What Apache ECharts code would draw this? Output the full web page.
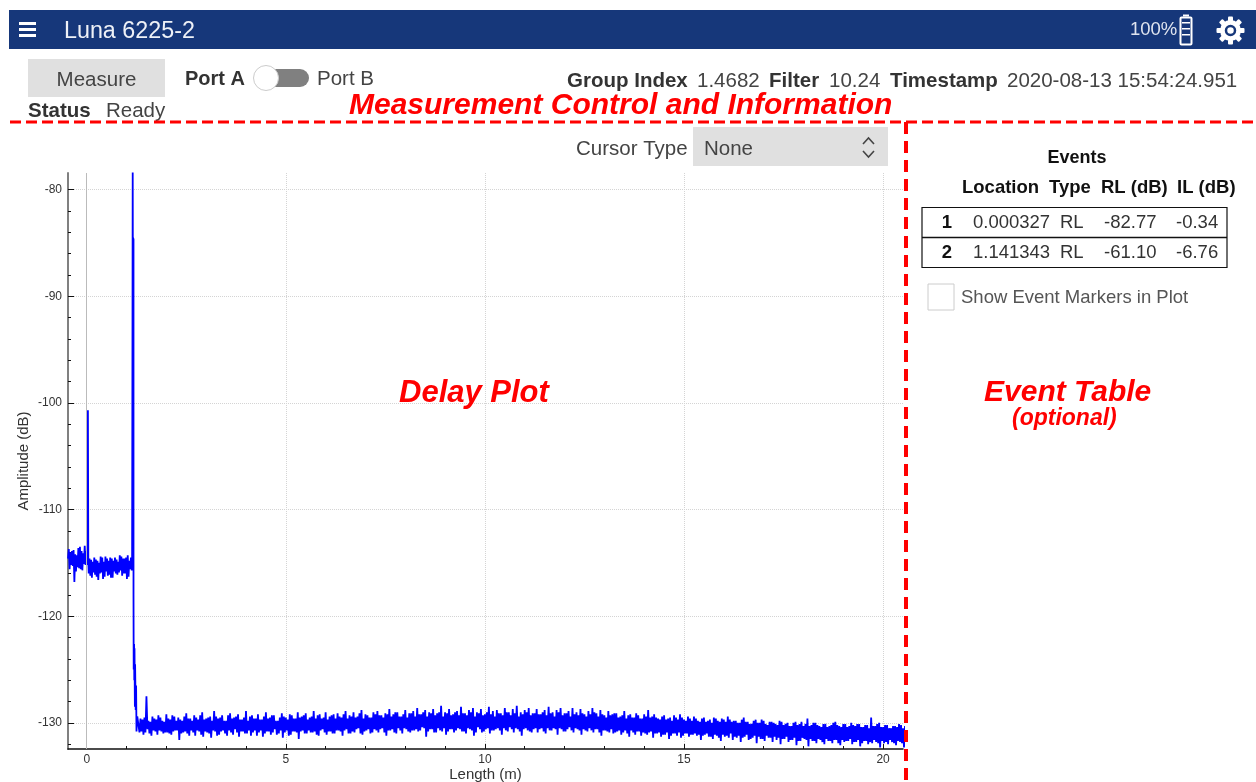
<!DOCTYPE html>
<html>
<head>
<meta charset="utf-8">
<title>Luna 6225-2</title>
<script src="https://cdn.jsdelivr.net/npm/echarts@6/dist/echarts.min.js"></script>
<style>
html,body{margin:0;padding:0;background:#fff}
#main{width:1256px;height:782px}
</style>
</head>
<body>
<div id="main"></div>
<script>
// trace, metres / dB
var frontStart = -0.47, frontStep = 0.04
var frontAmp = [-114.6,-113.7,-115.2,-113.9,-116.8,-114.2,-115.4,-113.6,-115.6,-113.9,-115.1,-113.4,-115.2]
var frontAmpB = [-115.6,-114.0,-115.3,-113.8,-115.8,-114.3,-115.5,-113.5,-115.7,-114.1,-115.2,-113.9]
var echoLength = [0.03,0.03,0.04]
var echoAmp = [-114.4,-100.7,-114.9]
var fiberStart = 0.05
var fiberAmp = [-116.0,-114.6,-116.4,-114.9,-116.1,-114.7,-116.6,-115.0,-115.9,-114.5,-116.3,-114.4,-116.2,-114.8,-116.4,-114.6,-115.8,-114.5,-116.1,-114.9,-115.7,-114.4,-116.0,-114.6,-116.5,-114.3,-115.6,-114.5]
var fiberAmpB = [-116.2,-114.7,-115.9,-114.5,-116.3,-114.8,-116.0,-114.4,-116.5,-114.9,-115.8,-114.6,-116.1,-114.5,-116.4,-114.8,-116.0,-114.7,-115.9,-114.3,-116.2,-114.6,-116.0,-114.5,-116.3,-114.8,-115.7,-114.6]
var peakLength = [1.14,1.15,1.155,1.16,1.165,1.17,1.175,1.175,1.18,1.19,1.195,1.2,1.21,1.215,1.23,1.24,1.25,1.27]
var peakAmp = [-115,-92,-78.4,-90,-84.5,-100,-84.6,-118,-125,-122.6,-126,-123,-128.5,-124.5,-128.8,-126.5,-130.8,-129.4]
var floorStart = 1.3, floorStep = 0.05
var floorAmp = [
-129.4,-130.9,-129.7,-131.1,-127.5,-130.6,-129.9,-131.2,-129.6,-130.8,-129.3,-130.7,-129.8,-131.0,-129.2,-130.9,-129.7,-131.1,-129.4,-130.7,
-129.5,-131.6,-129.8,-130.9,-129.1,-131.0,-129.6,-130.7,-129.3,-131.2,-129.7,-130.8,-129.0,-131.3,-129.6,-130.9,-129.4,-131.4,-128.9,-130.8,
-129.6,-131.1,-129.3,-130.7,-129.8,-131.2,-129.1,-130.9,-129.5,-130.6,-129.2,-131.3,-129.7,-130.8,-128.9,-131.0,-129.4,-131.2,-129.6,-130.7,
-129.2,-130.9,-129.7,-131.3,-129.0,-130.8,-129.5,-131.1,-129.3,-130.6,-129.8,-131.0,-129.1,-131.4,-129.5,-130.7,-129.2,-131.1,-129.6,-130.8,
-129.0,-131.5,-129.4,-130.7,-129.1,-131.0,-129.5,-130.9,-128.9,-130.8,-129.3,-131.2,-129.6,-130.6,-129.0,-131.1,-129.4,-130.8,-129.2,-131.0,
-129.1,-130.7,-129.5,-131.2,-128.9,-130.6,-129.3,-131.0,-129.0,-130.9,-129.4,-130.5,-128.8,-131.1,-129.2,-130.7,-129.5,-131.0,-129.0,-130.6,
-128.9,-130.9,-129.3,-130.5,-129.1,-131.2,-128.7,-130.7,-129.2,-130.9,-129.0,-130.5,-129.4,-131.0,-128.8,-130.6,-129.1,-130.9,-128.9,-130.7,
-128.6,-130.8,-129.2,-130.4,-128.8,-131.3,-129.0,-130.6,-128.7,-130.9,-129.1,-130.5,-128.4,-130.8,-129.0,-131.1,-128.7,-130.6,-129.2,-130.9,
-128.9,-130.5,-128.5,-130.8,-129.1,-131.0,-128.8,-130.6,-128.6,-131.2,-129.0,-130.4,-128.7,-130.9,-129.2,-130.6,-128.5,-131.0,-128.9,-130.7,
-128.8,-130.5,-129.1,-131.1,-128.6,-130.7,-129.0,-130.4,-128.7,-130.9,-128.4,-130.6,-129.0,-131.2,-128.8,-130.5,-128.6,-130.8,-129.1,-130.6,
-128.7,-130.9,-129.2,-130.5,-128.8,-131.0,-128.5,-130.7,-129.0,-130.5,-128.8,-131.1,-128.6,-130.6,-129.1,-130.8,-128.9,-130.4,-128.6,-130.9,
-129.0,-130.6,-128.7,-131.1,-129.2,-130.7,-128.9,-130.5,-128.6,-130.9,-129.1,-130.6,-128.8,-131.2,-129.3,-130.7,-128.9,-130.9,-129.2,-131.0,
-129.1,-130.8,-129.4,-131.1,-128.9,-130.7,-129.3,-131.3,-129.5,-130.9,-129.1,-130.8,-129.6,-131.2,-129.2,-131.0,-128.8,-130.9,-129.4,-131.4,
-129.5,-131.0,-129.7,-131.3,-129.3,-131.1,-129.6,-131.5,-129.8,-131.0,-129.5,-131.2,-129.2,-131.4,-129.7,-131.0,-129.4,-131.3,-129.8,-131.1,
-129.6,-131.2,-129.9,-131.6,-129.5,-131.1,-129.8,-131.3,-130.0,-131.5,-129.6,-131.2,-129.9,-131.7,-129.7,-131.3,-129.4,-131.4,-129.9,-131.6,
-129.8,-131.4,-130.0,-131.8,-129.5,-131.3,-129.9,-131.6,-130.1,-131.4,-129.7,-131.9,-130.0,-131.5,-129.8,-131.7,-130.2,-131.4,-129.9,-131.8,
-130.1,-131.6,-129.8,-132.0,-130.2,-131.5,-130.0,-131.8,-130.3,-131.6,-129.9,-132.1,-130.1,-131.7,-130.3,-131.5,-129.6,-132.2,-130.2,-131.7,
-130.0,-131.9,-130.3,-131.6,-130.1,-132.0,-130.4,-131.7,-130.2,-131.9,-129.9,-131.6,-130.3,-132.1,-130.1,-131.8,-130.4,-131.7,-130.0,-132.0,
-130.3,-131.8,-130.1,-132.2,-130.4,-131.7,-130.2,-132.0,-129.5,-131.9,-130.3,-131.8,-130.0,-132.3,-130.4,-131.9,-130.2,-132.0,-130.5,-131.8,
-130.3,-132.1,-130.1,-131.8,-130.5,-132.3,-130.2,-131.9,-130.4,-132.0,-130.1,-131.7,-130.5,-132.2,-130.3,-131.9
]
// second pass of high/low pairs, woven in with floorAmp
var floorAmpB = [
-129.6,-130.8,-129.5,-130.9,-129.8,-131.0,-129.4,-130.7,-129.7,-131.1,-129.5,-130.8,-129.9,-130.9,-129.6,-131.0,-129.3,-130.8,-129.8,-130.7,
-129.7,-131.0,-129.4,-130.8,-129.6,-131.2,-129.8,-130.9,-129.5,-130.7,-129.3,-131.1,-129.7,-130.8,-129.5,-131.0,-129.8,-130.7,-129.4,-131.2,
-129.5,-130.8,-129.8,-131.0,-129.3,-130.7,-129.6,-131.1,-129.4,-130.9,-129.7,-130.8,-129.5,-131.0,-129.8,-130.7,-129.3,-130.9,-129.6,-131.2,
-129.7,-130.7,-129.4,-131.0,-129.6,-130.8,-129.3,-130.9,-129.8,-131.1,-129.5,-130.7,-129.4,-130.9,-129.7,-131.2,-129.3,-130.8,-129.6,-130.9,
-129.5,-130.8,-129.3,-131.0,-129.7,-130.7,-129.4,-130.9,-129.6,-131.1,-129.2,-130.7,-129.5,-130.9,-129.7,-130.8,-129.3,-131.0,-129.6,-130.7,
-129.4,-130.8,-129.2,-130.7,-129.6,-131.0,-129.4,-130.8,-129.5,-130.6,-129.1,-131.0,-129.6,-130.8,-129.3,-130.6,-129.5,-130.9,-129.2,-130.7,
-129.3,-130.6,-129.5,-130.9,-129.2,-130.7,-129.4,-130.6,-129.0,-131.0,-129.4,-130.7,-129.2,-130.5,-129.5,-130.8,-129.1,-130.7,-129.4,-130.6,
-129.2,-130.7,-129.0,-130.5,-129.4,-130.8,-129.1,-130.6,-129.3,-130.9,-129.0,-130.7,-129.4,-130.5,-129.1,-130.8,-129.3,-130.6,-129.0,-130.7,
-129.3,-130.6,-129.1,-130.8,-129.3,-130.5,-129.0,-130.7,-129.4,-130.9,-129.1,-130.6,-129.3,-130.8,-129.0,-130.5,-129.2,-130.7,-129.4,-130.6,
-129.1,-130.7,-129.3,-130.5,-129.0,-130.8,-129.3,-130.6,-129.1,-130.5,-129.4,-130.8,-129.2,-130.6,-129.0,-130.7,-129.3,-130.9,-129.1,-130.5,
-129.2,-130.6,-129.0,-130.8,-129.3,-130.5,-129.1,-130.7,-129.4,-130.6,-129.0,-130.5,-129.3,-130.8,-129.1,-130.6,-129.4,-130.7,-129.2,-130.5,
-129.3,-130.7,-129.1,-130.6,-129.4,-130.8,-129.2,-130.7,-129.0,-130.6,-129.4,-130.9,-129.2,-130.7,-129.5,-130.8,-129.3,-130.6,-129.1,-130.9,
-129.5,-130.7,-129.3,-130.9,-129.6,-131.0,-129.2,-130.7,-129.5,-131.1,-129.3,-130.8,-129.6,-130.9,-129.4,-131.1,-129.5,-130.8,-129.2,-131.0,
-129.6,-130.9,-129.4,-131.1,-129.7,-130.9,-129.5,-131.2,-129.3,-131.0,-129.7,-130.9,-129.5,-131.2,-129.8,-131.0,-129.6,-131.1,-129.4,-131.0,
-129.8,-131.1,-129.6,-131.2,-129.9,-131.0,-129.7,-131.3,-129.5,-131.1,-129.8,-131.4,-129.6,-131.1,-129.9,-131.2,-129.7,-131.0,-129.8,-131.3,
-130.0,-131.2,-129.7,-131.4,-129.9,-131.1,-130.1,-131.5,-129.8,-131.2,-130.0,-131.3,-129.7,-131.5,-130.1,-131.2,-129.9,-131.4,-130.0,-131.3,
-130.2,-131.4,-129.9,-131.5,-130.1,-131.3,-130.3,-131.6,-130.0,-131.4,-130.2,-131.7,-129.9,-131.4,-130.1,-131.6,-130.3,-131.5,-130.0,-131.7,
-130.2,-131.5,-130.4,-131.8,-130.1,-131.5,-130.3,-131.7,-130.0,-131.6,-130.2,-131.9,-130.4,-131.6,-130.1,-131.7,-130.3,-131.5,-130.2,-131.8,
-130.1,-131.6,-130.4,-131.9,-130.2,-131.7,-130.5,-131.8,-130.3,-131.6,-130.1,-131.9,-130.4,-131.7,-130.2,-131.8,-130.5,-131.6,-130.3,-131.9,
-130.4,-131.7,-130.2,-131.9,-130.3,-131.7,-130.5,-131.8,-130.2,-132.0,-130.4,-131.7,-130.3,-131.9,-130.5,-131.8
]
var xRange = [-0.47, 20.5]
var yRange = [-132.45, -78.45]
var xTicks = [0, 5, 10, 15, 20]
var yTicks = [-130, -120, -110, -100, -90, -80]

var trace = []
// two samples from a, then two from b, and so on, half a step apart
function weave(start, step, a, b) {
    for (var i = 0; i < a.length; i += 2) {
        trace.push([start + i * step, a[i]])
        if (i + 1 < a.length) trace.push([start + (i + 0.5) * step, a[i + 1]])
        if (i < b.length) trace.push([start + (i + 1) * step, b[i]])
        if (i + 1 < b.length) trace.push([start + (i + 1.5) * step, b[i + 1]])
    }
}
weave(frontStart, frontStep, frontAmp, frontAmpB)
echoAmp.forEach(function (v, i) { trace.push([echoLength[i], v]) })
weave(fiberStart, frontStep, fiberAmp, fiberAmpB)
peakAmp.forEach(function (v, i) { trace.push([peakLength[i], v]) })
weave(floorStart, floorStep, floorAmp, floorAmpB)

var FONT = '"Liberation Sans", Arial, sans-serif'
var NAVY = '#16377a'
var RED = '#ff0000'

function txt(x, y, s, size, opt) {
    opt = opt || {}
    return {
        type: 'text', x: x, y: y, silent: true, z: opt.z || 10,
        style: {
            text: s, fontFamily: FONT, fontSize: size,
            fontWeight: opt.bold ? 'bold' : 'normal',
            fontStyle: opt.italic ? 'italic' : 'normal',
            fill: opt.color || '#444',
            align: opt.align || 'left', verticalAlign: 'middle'
        }
    }
}
function box(x, y, w, h, fill, stroke, lw, r) {
    return {
        type: 'rect', silent: true, z: 5,
        shape: { x: x, y: y, width: w, height: h, r: r || 0 },
        style: { fill: fill || 'none', stroke: stroke || 'none', lineWidth: lw || 0 }
    }
}
function seg(x1, y1, x2, y2, color, lw, dash) {
    return {
        type: 'line', silent: true, z: 20,
        shape: { x1: x1, y1: y1, x2: x2, y2: y2 },
        style: { stroke: color, lineWidth: lw, lineDash: dash || null }
    }
}
function annot(x, y, s, size) {
    return txt(x, y, s, size, { bold: true, italic: true, color: RED, z: 30 })
}

var gfx = [
    // header bar
    box(9, 10, 1247, 39, NAVY),
    box(19, 22, 17, 3, '#fff'), box(19, 28, 17, 3, '#fff'), box(19, 34, 17, 3, '#fff'),
    txt(64, 32, 'Luna 6225-2', 23.3, { color: '#eef1f7' }),
    txt(1130, 30, '100%', 18.5, { color: '#dfe4ef' }),
    box(1180.5, 17.5, 11, 27, 'none', '#fff', 2, 1),
    box(1183, 14.5, 6, 2, '#fff'),
    box(1182, 22, 8, 1.5, '#fff'), box(1182, 28, 8, 1.5, '#fff'), box(1182, 34, 8, 1.5, '#fff'),
    // measure controls
    box(28, 59, 137, 38, '#e0e0e0'),
    txt(96.5, 80, 'Measure', 20.5, { align: 'center' }),
    txt(185, 79, 'Port A', 20, { bold: true, color: '#333' }),
    box(254, 69, 55, 18, '#808080', null, 0, 9),
    { type: 'circle', silent: true, z: 6, shape: { cx: 266, cy: 78, r: 12.5 }, style: { fill: '#fff', stroke: '#ccc', lineWidth: 1 } },
    txt(317, 79, 'Port B', 20.5),
    txt(28, 111, 'Status', 20.5, { bold: true, color: '#333' }),
    txt(106, 111, 'Ready', 20.5),
    txt(567, 81, 'Group Index', 20.5, { bold: true, color: '#333' }),
    txt(697, 81, '1.4682', 20.5),
    txt(769, 81, 'Filter', 20.5, { bold: true, color: '#333' }),
    txt(829, 81, '10.24', 20.5),
    txt(890, 81, 'Timestamp', 20.5, { bold: true, color: '#333' }),
    txt(1007, 81, '2020-08-13 15:54:24.951', 20.5),
    // cursor select
    txt(576, 149, 'Cursor Type', 20.5),
    box(693, 127, 195, 39, '#e0e0e0'),
    txt(704, 149, 'None', 20.5),
    { type: 'polyline', silent: true, z: 6, shape: { points: [[863, 144], [868.5, 138], [874, 144]] }, style: { fill: 'none', stroke: '#444', lineWidth: 1.6 } },
    { type: 'polyline', silent: true, z: 6, shape: { points: [[863, 151], [868.5, 157], [874, 151]] }, style: { fill: 'none', stroke: '#444', lineWidth: 1.6 } },
    // event table
    txt(1077, 158, 'Events', 18, { bold: true, align: 'center', color: '#111' }),
    txt(962, 188, 'Location', 18.5, { bold: true, color: '#111' }),
    txt(1049, 188, 'Type', 18.5, { bold: true, color: '#111' }),
    txt(1101, 188, 'RL (dB)', 18.5, { bold: true, color: '#111' }),
    txt(1177, 188, 'IL (dB)', 18.5, { bold: true, color: '#111' }),
    box(922, 207.5, 305, 60, 'none', '#111', 1.2),
    seg(922, 237.5, 1227, 237.5, '#111', 1.6),
    txt(947, 223, '1', 18.5, { bold: true, align: 'center', color: '#111' }),
    txt(973, 223, '0.000327', 18.5, { color: '#333' }),
    txt(1060, 223, 'RL', 18.5, { color: '#333' }),
    txt(1104, 223, '-82.77', 18.5, { color: '#333' }),
    txt(1176, 223, '-0.34', 18.5, { color: '#333' }),
    txt(947, 253, '2', 18.5, { bold: true, align: 'center', color: '#111' }),
    txt(973, 253, '1.141343', 18.5, { color: '#333' }),
    txt(1060, 253, 'RL', 18.5, { color: '#333' }),
    txt(1104, 253, '-61.10', 18.5, { color: '#333' }),
    txt(1176, 253, '-6.76', 18.5, { color: '#333' }),
    box(928, 284, 26, 26, '#fff', '#ccc', 1),
    txt(961, 298, 'Show Event Markers in Plot', 18.5, { color: '#555' }),
    // red annotations
    seg(10, 122, 1258, 122, RED, 3, [11, 5]),
    seg(906, 122, 906, 782, RED, 4, [12, 7]),
    annot(349, 106, 'Measurement Control and Information', 30),
    annot(399, 393, 'Delay Plot', 31),
    annot(984, 393, 'Event Table', 30),
    annot(1012, 419, '(optional)', 23)
]
// settings cog
for (var t = 0; t < 8; t++) {
    gfx.push({
        type: 'rect', silent: true, z: 6, x: 1230.5, y: 30.5, rotation: t * Math.PI / 4,
        shape: { x: -2.5, y: -14, width: 5, height: 5, r: 1 }, style: { fill: '#fff' }
    })
}
gfx.push({ type: 'circle', silent: true, z: 7, shape: { cx: 1230.5, cy: 30.5, r: 10.5 }, style: { fill: '#fff' } })
gfx.push({ type: 'circle', silent: true, z: 8, shape: { cx: 1230.5, cy: 30.5, r: 4.5 }, style: { fill: 'none', stroke: NAVY, lineWidth: 2.5 } })

var chart = echarts.init(document.getElementById('main'))
chart.setOption({
    animation: false,
    backgroundColor: '#fff',
    textStyle: { fontFamily: FONT },
    grid: { left: 68, right: 353, top: 173, bottom: 33, outerBoundsMode: 'none' },
    xAxis: {
        type: 'value', min: xRange[0], max: xRange[1],
        name: 'Length (m)', nameLocation: 'middle', nameGap: 18, nameMoveOverlap: false,
        nameTextStyle: { fontSize: 15, color: '#333', fontFamily: FONT },
        axisLine: { onZero: false, lineStyle: { color: '#111', width: 1.5 } },
        axisTick: { inside: true, length: 5, customValues: xTicks, lineStyle: { color: '#111' } },
        minorTick: { show: true, splitNumber: 5, length: 3, lineStyle: { color: '#111' } },
        axisLabel: { fontSize: 12, color: '#333', margin: 5, customValues: xTicks },
        splitLine: { show: true, lineStyle: { color: '#d4d4d4', type: 'dotted' } }
    },
    yAxis: {
        type: 'value', min: yRange[0], max: yRange[1],
        name: 'Amplitude (dB)', nameLocation: 'middle', nameGap: 37, nameMoveOverlap: false,
        nameTextStyle: { fontSize: 15, color: '#333', fontFamily: FONT },
        axisLine: { onZero: false, lineStyle: { color: '#808080', width: 2 } },
        axisTick: { inside: true, length: 6, customValues: yTicks, lineStyle: { color: '#111' } },
        minorTick: { show: true, splitNumber: 5, length: 3, lineStyle: { color: '#111' } },
        axisLabel: { fontSize: 12, color: '#333', margin: 6, customValues: yTicks },
        splitLine: { show: true, lineStyle: { color: '#d4d4d4', type: 'dotted' } }
    },
    series: [{
        type: 'line', data: trace, showSymbol: false, sampling: null, smooth: false,
        clip: true, silent: true,
        lineStyle: { color: '#0000ff', width: 1.8 },
        markLine: {
            silent: true, symbol: 'none', label: { show: false }, animation: false,
            lineStyle: { color: '#bbb', width: 1, type: 'solid' },
            data: [{ xAxis: 0 }]
        }
    }],
    graphic: { elements: gfx }
})
window.addEventListener('resize', function () { chart.resize() })
</script>
</body>
</html>
